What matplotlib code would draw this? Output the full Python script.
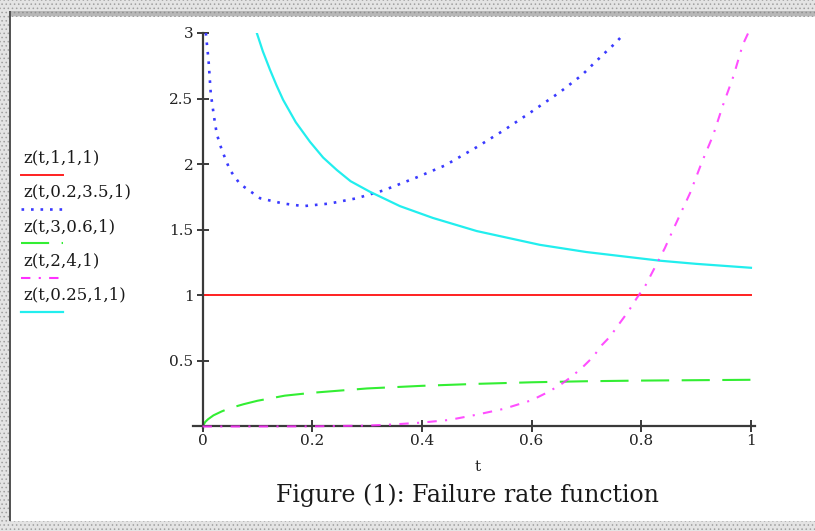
import numpy as np
import matplotlib
matplotlib.use("Agg")
from matplotlib import pyplot as plt
from matplotlib.lines import Line2D
from matplotlib.patches import Rectangle

# ---------------------------------------------------------------------------
# valores (t, z)
# ---------------------------------------------------------------------------
t_red = [0.0, 1.0]
z_red = [1.0, 1.0]

t_blue = [0.006, 0.011, 0.015, 0.021, 0.026, 0.035, 0.050, 0.068, 0.105, 0.147,
          0.184, 0.232, 0.281, 0.330, 0.391, 0.442, 0.5, 0.55, 0.6, 0.652,
          0.692, 0.714, 0.734, 0.752, 0.770]
z_blue = [3.0, 2.79, 2.54, 2.36, 2.23, 2.11, 1.955, 1.85, 1.74, 1.70,
          1.68, 1.70, 1.74, 1.80, 1.90, 1.99, 2.13, 2.26, 2.40, 2.55,
          2.68, 2.77, 2.85, 2.92, 3.0]

t_green = [0.0, 0.005, 0.01, 0.02, 0.035, 0.05, 0.075, 0.1, 0.15, 0.2, 0.3,
           0.4, 0.5, 0.6, 0.7, 0.8, 0.9, 1.0]
z_green = [0.0, 0.035, 0.055, 0.085, 0.115, 0.14, 0.17, 0.196, 0.235, 0.257,
           0.29, 0.31, 0.325, 0.337, 0.345, 0.35, 0.353, 0.356]

t_mag = [0.0, 0.1, 0.2, 0.3, 0.35, 0.4, 0.45, 0.5, 0.55, 0.6, 0.628, 0.652,
         0.673, 0.694, 0.712, 0.728, 0.743, 0.761, 0.776, 0.792, 0.807, 0.843,
         0.858, 0.889, 0.910, 0.931, 0.949, 0.968, 0.985, 0.995]
z_mag = [0.0, 0.0, 0.001, 0.007, 0.016, 0.03, 0.05, 0.09, 0.135, 0.2, 0.258,
         0.316, 0.38, 0.456, 0.53, 0.62, 0.685, 0.79, 0.875, 0.98, 1.07, 1.36,
         1.50, 1.78, 2.01, 2.22, 2.45, 2.67, 2.91, 3.0]

t_cyan = [0.099, 0.11, 0.123, 0.135, 0.147, 0.17, 0.196, 0.22, 0.245, 0.27,
          0.305, 0.36, 0.42, 0.5, 0.615, 0.7, 0.834, 0.9, 1.0]
z_cyan = [3.0, 2.86, 2.72, 2.60, 2.49, 2.32, 2.17, 2.05, 1.955, 1.87,
          1.79, 1.68, 1.59, 1.49, 1.385, 1.33, 1.264, 1.24, 1.21]

labels = ['z(t,1,1,1)', 'z(t,0.2,3.5,1)', 'z(t,3,0.6,1)', 'z(t,2,4,1)', 'z(t,0.25,1,1)']
cores = ['#ff2020', '#3a3aff', '#33ee33', '#ff30ff', '#22eeee']
estilos = ['solid', (0, (1, 2.6)), (0, (13.5, 6)), (0, (4.5, 4, 1, 4)), 'solid']
larguras = [1.4, 1.9, 1.5, 1.5, 1.6]

xticks = [0, 0.2, 0.4, 0.6, 0.8, 1]
xlabels = ['0', '0.2', '0.4', '0.6', '0.8', '1']
yticks = [0.5, 1, 1.5, 2, 2.5, 3]
ylabels = ['0.5', '1', '1.5', '2', '2.5', '3']

W, H = 815, 531
fig = plt.figure(figsize=(W / 100, H / 100), dpi=100)
fig.patch.set_facecolor('white')

def fx(px):
    return px / W

def fy(py):
    return 1 - py / H

# moldura pontilhada
plt.rcParams['hatch.linewidth'] = 0.6
for (x0, y0, w, h) in [(0, 0, W, 17), (0, 0, 11, H), (0, 521, W, 10)]:
    fig.add_artist(Rectangle((fx(x0), fy(y0 + h)), w / W, h / H, transform=fig.transFigure,
                             facecolor='#e4e4e4', edgecolor='#a0a0a0', hatch='....',
                             linewidth=0, zorder=0))
fig.add_artist(Rectangle((fx(11), fy(16)), (W - 11) / W, 5 / H, transform=fig.transFigure,
                         facecolor='#b8b8b8', edgecolor='#909090', hatch='....',
                         linewidth=0, zorder=0))
fig.add_artist(Rectangle((fx(9), fy(521)), 2 / W, (521 - 11) / H, transform=fig.transFigure,
                         facecolor='#555555', linewidth=0, zorder=0))

ax = fig.add_axes([fx(193.2), fy(427.8), (754.8 - 193.2) / W, (427.8 - 33) / H])
ax.set_xlim(-0.017, 1.007)
ax.set_ylim(-0.01, 3.0)
ax.patch.set_alpha(0)

series = [(t_red, z_red), (t_blue, z_blue), (t_green, z_green), (t_mag, z_mag), (t_cyan, z_cyan)]
for i, (t, z) in enumerate(series):
    ax.plot(t, z, color=cores[i], linestyle=estilos[i], linewidth=larguras[i],
            zorder=3 if i == 3 else 2, alpha=0.85 if i == 3 else 1)

for s in ['top', 'right']:
    ax.spines[s].set_visible(False)
for s in ['left', 'bottom']:
    ax.spines[s].set_position(('data', 0))
    ax.spines[s].set_color('#3a3a3a')
    ax.spines[s].set_linewidth(1.6)

ax.set_xticks(xticks)
ax.set_xticklabels(xlabels, family='DejaVu Serif', fontsize=11, color='#222222')
ax.set_yticks(yticks)
ax.set_yticklabels(ylabels, family='DejaVu Serif', fontsize=11, color='#222222')
ax.tick_params(direction='inout', length=9, width=1.4, color='#3a3a3a')
ax.tick_params(axis='x', pad=1)
ax.tick_params(axis='y', pad=2)

# legenda (texto acima da amostra de linha)
for i in range(5):
    yt = 158 + 34.2 * i
    fig.text(fx(23), fy(yt), labels[i], family='DejaVu Serif', fontsize=12,
             color='#1a1a1a', va='center', ha='left')
    fig.add_artist(Line2D([fx(21), fx(63)], [fy(yt + 17)] * 2, transform=fig.transFigure,
                          color=cores[i], linestyle=estilos[i], linewidth=larguras[i]))

fig.text(fx(478), fy(467), 't', family='DejaVu Serif', fontsize=11, ha='center', va='center',
         color='#222222')
fig.text(fx(467), fy(495), 'Figure (1): Failure rate function', family='DejaVu Serif',
         fontsize=17, ha='center', va='center', color='#1a1a1a')

fig.savefig('out.png', dpi=100)
